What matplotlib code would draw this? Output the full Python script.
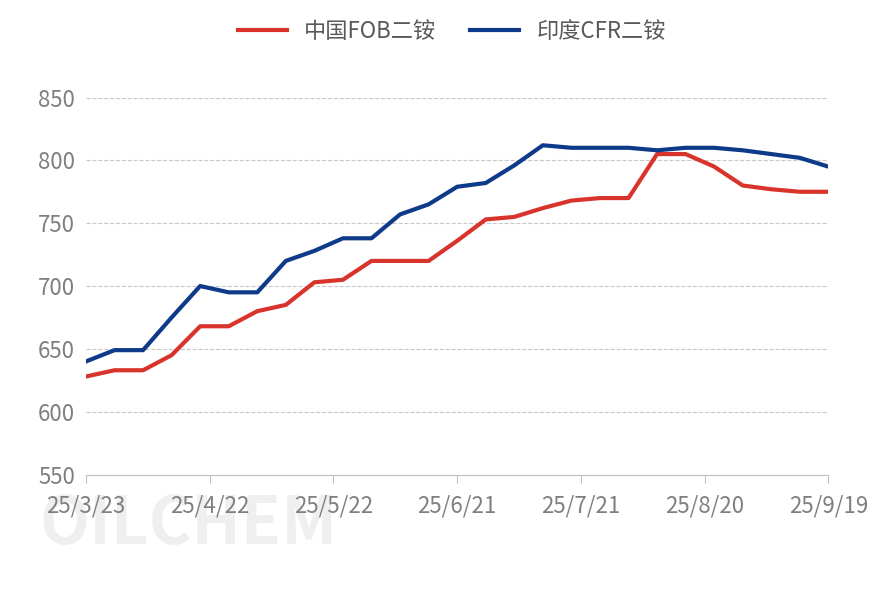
import matplotlib
matplotlib.use("Agg")
import matplotlib.pyplot as plt

plt.rcParams['font.family'] = ['Noto Sans CJK SC', 'DejaVu Sans']

china_fob = [628, 633, 633, 645, 668, 668, 680, 685, 703, 705, 720, 720, 720, 736,
             753, 755, 762, 768, 770, 770, 805, 805, 795, 780, 777, 775, 775]
india_cfr = [640, 649, 649, 675, 700, 695, 695, 720, 728, 738, 738, 757, 765, 779,
             782, 796, 812, 810, 810, 810, 808, 810, 810, 808, 805, 802, 795]
tick_labels = ["25/3/23", "25/4/22", "25/5/22", "25/6/21", "25/7/21", "25/8/20", "25/9/19"]

x = list(range(len(china_fob)))
n = len(x) - 1
tick_pos = [k * n / (len(tick_labels) - 1) for k in range(len(tick_labels))]

fig, ax = plt.subplots(figsize=(8.86, 5.91), dpi=100)
fig.subplots_adjust(left=0.097, right=0.935, top=0.835, bottom=0.197)

ax.plot(x, china_fob, color="#d9342b", lw=3, label="中国FOB二铵")
ax.plot(x, india_cfr, color="#0e3a8a", lw=3, label="印度CFR二铵")

ax.set_ylim(550, 850)
ax.set_yticks(range(550, 851, 50))
ax.set_xlim(0, n)
ax.set_xticks(tick_pos)
ax.set_xticklabels(tick_labels)
ax.grid(axis="y", ls="--", color="#c8c8c8", lw=0.8)
ax.set_axisbelow(True)
for s in ["top", "right", "left"]:
    ax.spines[s].set_visible(False)
ax.spines["bottom"].set_color("#bfbfbf")
ax.tick_params(axis="y", length=0, labelsize=16, labelcolor="#7f7f7f", pad=8)
ax.tick_params(axis="x", length=6, color="#bfbfbf", labelsize=16, labelcolor="#7f7f7f", pad=8)

# faint watermark behind the tick labels
ax.text(0.045, 0.08, "OILCHEM", transform=fig.transFigure, fontsize=47,
        color="#efefef", fontweight="bold", zorder=0, clip_on=False)
fig.legend(loc="upper center", ncol=2, frameon=False, fontsize=16,
           bbox_to_anchor=(0.51, 1.0), handlelength=2.2, columnspacing=1.5,
           labelcolor="#595959")

fig.savefig("out.png", dpi=100)
